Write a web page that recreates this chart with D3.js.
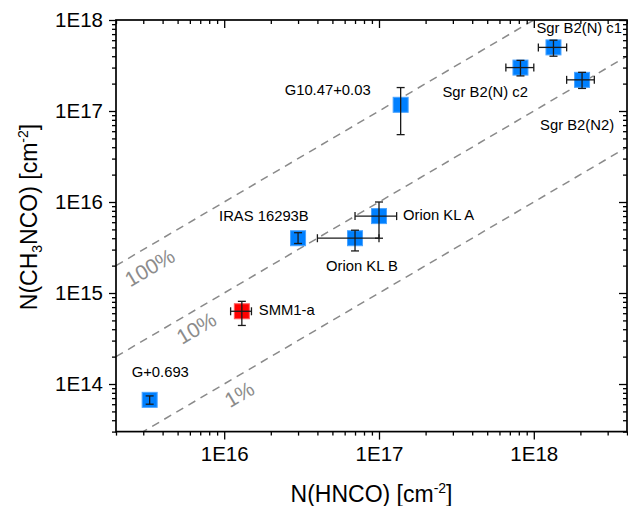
<!DOCTYPE html>
<html>
<head>
<meta charset="utf-8">
<script src="https://cdn.jsdelivr.net/npm/d3@7"></script>
<style>
  html, body { margin: 0; padding: 0; background: #fff; }
  svg { display: block; }
  text { font-family: "Liberation Sans", Arial, sans-serif; }
</style>
</head>
<body>
<svg id="chart" width="628" height="506"></svg>
<script>
// ---------------- data ----------------
const sources   = ["G+0.693", "SMM1-a", "IRAS 16293B", "Orion KL B", "Orion KL A",
                   "G10.47+0.03", "Sgr B2(N) c2", "Sgr B2(N) c1", "Sgr B2(N2)"];
const hnco      = [3.3e15, 1.3e16, 3.0e16, 7.0e16, 1.0e17, 1.38e17, 8.2e17, 1.34e18, 2.05e18];
const hncoLo    = [null,   1.1e16, null,   4.0e16, 7.0e16, null,    6.6e17, 1.07e18, 1.63e18];
const hncoHi    = [null,   1.5e16, null,   1.0e17, 1.3e17, null,    1.0e18, 1.63e18, 2.46e18];
const ch3nco    = [6.7e13, 6.3e14, 4.0e15, 4.0e15, 7.0e15, 1.17e17, 3.0e17, 5.0e17, 2.2e17];
const ch3ncoLo  = [6.0e13, 4.4e14, 3.5e15, 2.9e15, 4.0e15, 5.5e16,  2.43e17, 4.0e17, 1.77e17];
const ch3ncoHi  = [7.4e13, 8.1e14, 4.6e15, 4.9e15, 1.0e16, 1.81e17, 3.6e17,  6.0e17, 2.66e17];
const isRed     = [false,  true,   false,  false,  false,  false,   false,   false,   false];

const ratios     = [1, 0.1, 0.01];
const ratioNames = ["100%", "10%", "1%"];

const xTickValues = [1e16, 1e17, 1e18];
const xTickLabels = ["1E16", "1E17", "1E18"];
const yTickValues = [1e14, 1e15, 1e16, 1e17, 1e18];
const yTickLabels = ["1E14", "1E15", "1E16", "1E17", "1E18"];

// ---------------- layout ----------------
// label offsets (px) from each marker centre: [dx, dy] to text start / baseline
const labelOffsets = [[-18,-23],[17,3.5],[-79,-17],[-29,33],[24,3.5],[-116,-10],[-78,29],[-17,-14],[-42,50]];
const ratioLabelX  = [3.3e15, 6.6e15, 1.25e16];   // where along each line its label sits
const ratioLabelDy = [21.5, 18.5, 19];             // px below the line

const W = 628, H = 506;
const L = 116, R = 627, T = 20, B = 431.6;

const svg = d3.select("#chart");

const x = d3.scaleLog().domain([2e15, 4e18]).range([L, R]);
const y = d3.scaleLog().domain([3e13, 1e18]).range([B, T]);

// clip
svg.append("defs").append("clipPath").attr("id", "clip")
  .append("rect").attr("x", L).attr("y", T).attr("width", R - L).attr("height", B - T);

// ---------- ratio lines ----------
const lineGen = d3.line().x(d => x(d[0])).y(d => y(d[1]));
const gLines = svg.append("g").attr("clip-path", "url(#clip)");
ratios.forEach(r => {
  const xs = [2e15, 4e18];
  gLines.append("path")
    .attr("d", lineGen(xs.map(v => [v, v * r])))
    .attr("fill", "none")
    .attr("stroke", "#8a8a8a")
    .attr("stroke-width", 1.5)
    .attr("stroke-dasharray", "8,6");
});
const angle = Math.atan2(y(1e17) - y(1e16), x(1e17) - x(1e16)) * 180 / Math.PI;
ratios.forEach((r, i) => {
  const px = x(ratioLabelX[i]);
  const py = y(ratioLabelX[i] * r) + ratioLabelDy[i];
  svg.append("text")
    .attr("transform", `translate(${px},${py}) rotate(${angle})`)
    .attr("text-anchor", "middle")
    .attr("dominant-baseline", "central")
    .attr("font-size", 21)
    .attr("fill", "#8c8c8c")
    .text(ratioNames[i]);
});

// ---------- axes ----------
function minorTicks(lo, hi) {
  const out = [];
  for (let e = Math.floor(Math.log10(lo)); e <= Math.ceil(Math.log10(hi)); e++) {
    for (let m = 2; m <= 9; m++) {
      const v = m * Math.pow(10, e);
      if (v >= lo * 0.999 && v <= hi * 1.001) out.push(v);
    }
  }
  return out;
}
const xMinor = minorTicks(2e15, 4e18);
const yMinor = minorTicks(3e13, 1e18);

function styleAxis(g) {
  g.select(".domain").remove();
  g.selectAll(".tick line").attr("stroke", "#000").attr("stroke-width", 1.3);
  g.selectAll(".tick text").attr("fill", "#000").attr("font-size", 20.5)
    .attr("font-family", '"Liberation Sans", Arial, sans-serif');
}

// bottom: outward
svg.append("g").attr("transform", `translate(0,${B})`)
  .call(d3.axisBottom(x).tickValues(xTickValues).tickSize(8).tickPadding(7)
    .tickFormat((d, i) => xTickLabels[i]))
  .call(styleAxis);
svg.append("g").attr("transform", `translate(0,${B})`)
  .call(d3.axisBottom(x).tickValues(xMinor).tickSize(4).tickFormat(""))
  .call(styleAxis);
// top: inward
svg.append("g").attr("transform", `translate(0,${T})`)
  .call(d3.axisTop(x).tickValues(xTickValues).tickSize(-8).tickFormat(""))
  .call(styleAxis);
svg.append("g").attr("transform", `translate(0,${T})`)
  .call(d3.axisTop(x).tickValues(xMinor).tickSize(-4).tickFormat(""))
  .call(styleAxis);
// left: outward
svg.append("g").attr("transform", `translate(${L},0)`)
  .call(d3.axisLeft(y).tickValues(yTickValues).tickSize(7).tickPadding(6)
    .tickFormat((d, i) => yTickLabels[i]))
  .call(styleAxis);
svg.append("g").attr("transform", `translate(${L},0)`)
  .call(d3.axisLeft(y).tickValues(yMinor).tickSize(4).tickFormat(""))
  .call(styleAxis);
// right: inward
svg.append("g").attr("transform", `translate(${R},0)`)
  .call(d3.axisRight(y).tickValues(yTickValues).tickSize(-8).tickFormat(""))
  .call(styleAxis);
svg.append("g").attr("transform", `translate(${R},0)`)
  .call(d3.axisRight(y).tickValues(yMinor).tickSize(-4).tickFormat(""))
  .call(styleAxis);

// frame
svg.append("rect").attr("x", L).attr("y", T).attr("width", R - L).attr("height", B - T)
  .attr("fill", "none").attr("stroke", "#000").attr("stroke-width", 1.7);

// ---------- markers ----------
const pts = sources.map((s, i) => ({
  name: s, x: hnco[i], xl: hncoLo[i], xh: hncoHi[i],
  y: ch3nco[i], yl: ch3ncoLo[i], yh: ch3ncoHi[i], red: isRed[i], off: labelOffsets[i]
}));
const S = 15;
svg.append("g").selectAll("rect").data(pts).join("rect")
  .attr("x", d => x(d.x) - S / 2).attr("y", d => y(d.y) - S / 2)
  .attr("width", S).attr("height", S)
  .attr("fill", d => d.red ? "#ff0000" : "#0080ff")
  .attr("stroke", d => d.red ? "#ff5a5a" : "#4aa3ff")
  .attr("stroke-width", 1);

// ---------- error bars ----------
const gErr = svg.append("g").attr("stroke", "#1a1a1a").attr("stroke-width", 1.3).attr("fill", "none");
const cap = 4;
pts.forEach(d => {
  const cx = x(d.x), cy = y(d.y);
  if (d.yl != null) {
    const y1 = y(d.yh), y2 = y(d.yl);
    gErr.append("line").attr("x1", cx).attr("x2", cx).attr("y1", y1).attr("y2", y2);
    gErr.append("line").attr("x1", cx - cap).attr("x2", cx + cap).attr("y1", y1).attr("y2", y1);
    gErr.append("line").attr("x1", cx - cap).attr("x2", cx + cap).attr("y1", y2).attr("y2", y2);
  }
  if (d.xl != null) {
    const x1 = x(d.xl), x2 = x(d.xh);
    gErr.append("line").attr("x1", x1).attr("x2", x2).attr("y1", cy).attr("y2", cy);
    gErr.append("line").attr("x1", x1).attr("x2", x1).attr("y1", cy - cap).attr("y2", cy + cap);
    gErr.append("line").attr("x1", x2).attr("x2", x2).attr("y1", cy - cap).attr("y2", cy + cap);
  }
});

// ---------- point labels ----------
svg.append("g").selectAll("text").data(pts).join("text")
  .attr("x", d => x(d.x) + d.off[0])
  .attr("y", d => y(d.y) + d.off[1])
  .attr("font-size", 14.8)
  .attr("fill", "#000")
  .text(d => d.name);

// ---------- axis titles ----------
const xt = svg.append("text")
  .attr("x", (L + R) / 2).attr("y", 501.5)
  .attr("text-anchor", "middle").attr("font-size", 23).attr("fill", "#000");
xt.append("tspan").text("N(HNCO) [cm");
xt.append("tspan").attr("font-size", 14).attr("dy", -9).text("-2");
xt.append("tspan").attr("dy", 9).text("]");

const yt = svg.append("text")
  .attr("transform", `translate(37,217) rotate(-90)`)
  .attr("text-anchor", "middle").attr("font-size", 23).attr("fill", "#000");
yt.append("tspan").text("N(CH");
yt.append("tspan").attr("font-size", 14).attr("dy", 5).text("3");
yt.append("tspan").attr("dy", -5).text("NCO) [cm");
yt.append("tspan").attr("font-size", 14).attr("dy", -9).text("-2");
yt.append("tspan").attr("dy", 9).text("]");
</script>
</body>
</html>
